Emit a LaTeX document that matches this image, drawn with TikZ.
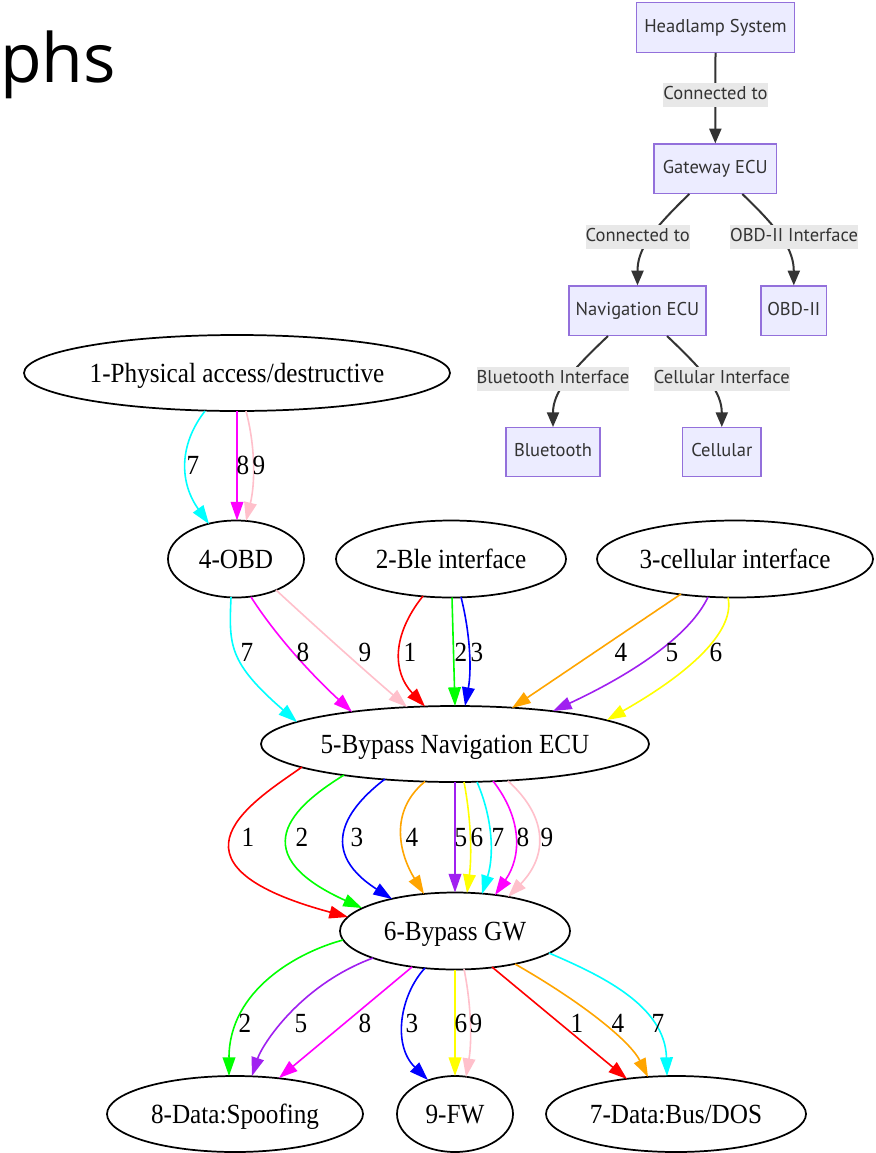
\documentclass[tikz,border=0pt]{standalone}
\usepackage{fontspec}
\setmainfont{Liberation Serif}
\newfontfamily\mmfont{PT Sans}
\newfontfamily\titlefont{Open Sans}
\usetikzlibrary{arrows.meta,calc,shapes.geometric}

\newlength\pxu
\setlength\pxu{0.75pt}

% attack-path colours
\definecolor{gred}{HTML}{FF0000}
\definecolor{ggreen}{HTML}{00FF00}
\definecolor{gblue}{HTML}{0000FF}
\definecolor{gorange}{HTML}{FFA500}
\definecolor{gpurple}{HTML}{A020F0}
\definecolor{gyellow}{HTML}{FFFF00}
\definecolor{gcyan}{HTML}{00FFFF}
\definecolor{gmagenta}{HTML}{FF00FF}
\definecolor{gpink}{HTML}{FFC0CB}
% architecture flowchart colours
\definecolor{mmfill}{HTML}{ECECFF}
\definecolor{mmstroke}{HTML}{9370DB}
\definecolor{mmlabel}{HTML}{E8E8E8}
\definecolor{mmline}{HTML}{333333}

% slightly tall serif lettering of the attack graph
\newcommand\tall[1]{\scalebox{1}[1.1]{#1}}

\tikzset{
  gvnode/.style={ellipse, draw=black, line width=1.3pt, fill=white, inner sep=0pt,
    font=\fontsize{18.9pt}{20pt}\selectfont, text height=13.6pt, text depth=0pt},
  gv/.style={line width=1.2pt, -{Triangle[length=14pt,width=9.5pt]}},
  gvlab/.style={inner sep=0pt, font=\fontsize{18.9pt}{20pt}\selectfont,
    text height=13.6pt, text depth=0pt},
  mmbox/.style={rectangle, draw=mmstroke, fill=mmfill, line width=1pt, inner sep=0pt,
    text=mmline, font=\mmfont\fontsize{13.9pt}{16pt}\selectfont,
    text height=10pt, text depth=3pt},
  mmlab/.style={rectangle, fill=mmlabel, inner xsep=0pt, inner ysep=0pt,
    minimum height=24\pxu, text=mmline, font=\mmfont\fontsize{13.9pt}{16pt}\selectfont,
    text height=10pt, text depth=3pt},
  mmedge/.style={draw=mmline, line width=1.5pt, -{Triangle[length=11pt,width=9pt]}},
}

% edge bent through a given mid point: colour, from, start offset, mid point, to, end offset, label position, label
\newcommand\gvq[8]{%
  \coordinate (gvs) at ($(#2.center)+(#3)$);
  \coordinate (gve) at ($(#5.center)+(#6)$);
  \draw[gv,#1] (gvs) .. controls ($1.3333*(#4)-0.3333*(gve)$) and ($1.3333*(#4)-0.3333*(gvs)$) .. (gve);
  \node[gvlab] (#2-#5-#8) at (#7) {\tall{#8}};}
% edge with explicit control points: colour, from, start offset, c1, c2, to, end offset, label position, label
\newcommand\gvc[9]{%
  \draw[gv,#1] ($(#2.center)+(#3)$) .. controls (#4) and (#5) .. ($(#6.center)+(#7)$);
  \node[gvlab] (#2-#6-#9) at (#8) {\tall{#9}};}

\begin{document}
\begin{tikzpicture}[x=0.75pt,y=-0.75pt]
\useasboundingbox (0,0) rectangle (875,1153);
\fill[white] (0,0) rectangle (875,1153);

% cropped heading
\node[anchor=base west, inner sep=0pt, font=\titlefont\fontsize{51pt}{60pt}\selectfont] (title) at (0,82) {phs};

% ---------- architecture flowchart ----------
\node[mmbox, minimum width=157.6\pxu, minimum height=49.6\pxu] (hl) at (715.5,27.5) {Headlamp System};
\node[mmbox, minimum width=122.7\pxu, minimum height=49.3\pxu] (gwe) at (715.3,168.7) {Gateway ECU};
\node[mmbox, minimum width=137\pxu, minimum height=49.3\pxu] (nave) at (637.5,310.7) {Navigation ECU};
\node[mmbox, minimum width=65.7\pxu, minimum height=49.3\pxu] (obde) at (793.8,310.7) {OBD-II};
\node[mmbox, minimum width=94\pxu, minimum height=49\pxu] (bt) at (553,452.2) {Bluetooth};
\node[mmbox, minimum width=78.3\pxu, minimum height=49\pxu] (cl) at (721.8,452.2) {Cellular};

\draw[mmedge] (hl.south) -- (gwe.north);
\draw[mmedge] ($(gwe.south)+(-26,0)$) .. controls (650,232) and (637.5,250) .. (nave.north);
\draw[mmedge] ($(gwe.south)+(27,0)$) .. controls (780,230) and (793.8,250) .. (obde.north);
\draw[mmedge] ($(nave.south)+(-29.5,0)$) .. controls (570,372) and (553,392) .. (bt.north);
\draw[mmedge] ($(nave.south)+(29.5,0)$) .. controls (705,372) and (721.8,392) .. (cl.north);

\node[mmlab] (lc1) at (715.5,95.3) {Connected to};
\node[mmlab] (lc2) at (637.8,236.7) {Connected to};
\node[mmlab] (lobd) at (794,236.7) {OBD-II Interface};
\node[mmlab] (lbt) at (553,378.7) {Bluetooth Interface};
\node[mmlab] (lcl) at (721.8,378.7) {Cellular Interface};

% ---------- attack graph ----------
\node[gvnode, minimum width=426\pxu, minimum height=76\pxu] (phys) at (237,373) {\tall{1-Physical access/destructive}};
\node[gvnode, minimum width=136\pxu, minimum height=77\pxu] (obd) at (236,559) {\tall{4-OBD}};
\node[gvnode, minimum width=230\pxu, minimum height=77\pxu] (ble) at (451,559) {\tall{2-Ble interface}};
\node[gvnode, minimum width=276\pxu, minimum height=77\pxu] (cell) at (735,559) {\tall{3-cellular interface}};
\node[gvnode, minimum width=388\pxu, minimum height=76\pxu] (nav) at (455,744) {\tall{5-Bypass Navigation ECU}};
\node[gvnode, minimum width=230\pxu, minimum height=77\pxu] (gw) at (455,931) {\tall{6-Bypass GW}};
\node[gvnode, minimum width=256\pxu, minimum height=76\pxu] (spoof) at (235,1114) {\tall{8-Data:Spoofing}};
\node[gvnode, minimum width=116\pxu, minimum height=76\pxu] (fw) at (455,1114) {\tall{9-FW}};
\node[gvnode, minimum width=260\pxu, minimum height=76\pxu] (dos) at (676,1114) {\tall{7-Data:Bus/DOS}};

% physical access -> OBD
\gvq{gcyan}{phys}{-32,38}{186,465}{obd}{-27,-35}{193,465}{7}
\gvq{gmagenta}{phys}{0,38}{237,466}{obd}{1,-38.5}{243,465}{8}
\gvq{gpink}{phys}{9,38}{253,465}{obd}{10,-38}{259,465}{9}

% entry points -> navigation ECU
\gvc{gcyan}{obd}{-5,38}{229,645}{228,662}{nav}{-158,-22}{247,652}{7}
\gvq{gmagenta}{obd}{15,38}{293,652}{nav}{-103,-32}{303,652}{8}
\gvq{gpink}{obd}{40,31}{341.5,649.5}{nav}{-48,-37}{365,652}{9}
\gvq{gred}{ble}{-28,37}{400,653}{nav}{-30,-37.5}{410,652}{1}
\gvq{ggreen}{ble}{1,38.5}{453.5,652}{nav}{0,-38}{461,652}{2}
\gvq{gblue}{ble}{10,38}{469,652}{nav}{10,-38}{477,652}{3}
\gvq{gorange}{cell}{-54,35}{596.5,651}{nav}{57,-36}{621,652}{4}
\gvq{gpurple}{cell}{-27,38}{657,652}{nav}{98,-33}{672,652}{5}
\gvq{gyellow}{cell}{-7,38.5}{703,652}{nav}{152,-24}{716,652}{6}

% navigation ECU -> gateway
\gvc{gred}{nav}{-153,23}{257,799}{148,863}{gw}{-107,-14}{248,837}{1}
\gvc{ggreen}{nav}{-111,31}{304,800}{234,850}{gw}{-93,-23}{302,837}{2}
\gvc{gblue}{nav}{-70,35}{355,802}{311,847}{gw}{-63,-32}{357,837}{3}
\gvc{gorange}{nav}{-30,37.5}{388,812}{400,855}{gw}{-31,-37}{412,837}{4}
\gvq{gpurple}{nav}{0,38}{455,837}{gw}{0,-38.5}{461,837}{5}
\gvq{gyellow}{nav}{9,38}{470,837}{gw}{12,-38}{477,837}{6}
\gvq{gcyan}{nav}{22,38}{490,837}{gw}{27,-37}{498,837}{7}
\gvq{gmagenta}{nav}{38,37}{515,837}{gw}{40,-36}{523,837}{8}
\gvq{gpink}{nav}{53,37}{538,837}{gw}{53,-34}{547,837}{9}

% gateway -> impacts
\gvc{ggreen}{gw}{-112,9}{298,952}{229,990}{spoof}{-6,-38}{245,1023}{2}
\gvc{gpurple}{gw}{-82,27}{300,985}{262,1045}{spoof}{17,-38}{301,1023}{5}
\gvq{gmagenta}{gw}{-43,36}{345.5,1022.5}{spoof}{44,-36}{365,1023}{8}
\gvc{gblue}{gw}{-30,37}{400,995}{392,1045}{fw}{-27,-34}{412,1023}{3}
\gvq{gyellow}{gw}{0,38.5}{455,1022}{fw}{0,-38}{461,1023}{6}
\gvq{gpink}{gw}{9,38}{470,1023}{fw}{11,-37}{476,1023}{9}
\gvq{gred}{gw}{37,36}{559.5,1023}{dos}{-49,-35}{577,1023}{1}
\gvq{gorange}{gw}{60,33}{602,1023}{dos}{-28,-37}{618,1023}{4}
\gvc{gcyan}{gw}{94,22}{600,975}{665,1005}{dos}{-9,-38}{658,1023}{7}
\end{tikzpicture}
\end{document}
